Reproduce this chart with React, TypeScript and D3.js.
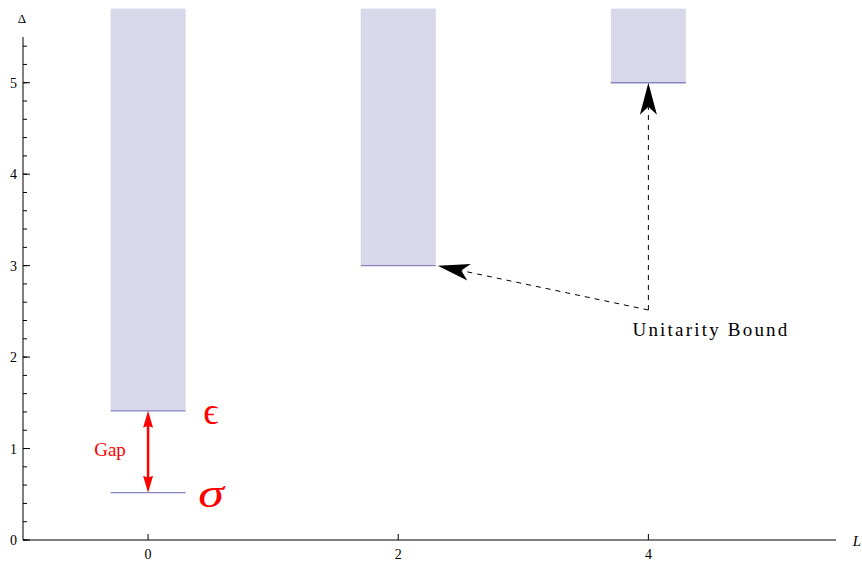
import React from "react";
import * as d3 from "d3";

// Spin L of each channel and the dimension where its continuum starts
const spins = [0, 2, 4];
const continuumStart = [1.4126, 3, 5];
// Isolated scalar operators below the L = 0 continuum
const sigmaDim = 0.518;
const epsilonDim = 1.4126;
// Axis ticks
const xTicks = [0, 2, 4];
const yTicks = [0, 1, 2, 3, 4, 5];
const yMinorTicks = d3.range(0, 5.5, 0.2);

const W = 862;
const H = 561;

const x = d3.scaleLinear().domain([-1, 5.5]).range([23, 836]);
const y = d3.scaleLinear().domain([0, 5.5]).range([540, 37]);
const barHalf = 0.3;
const barTop = 5.81;

const fillC = "#d8d8ea";
const lineC = "#8585c4";
const serif = "'Liberation Serif', 'DejaVu Serif', serif";

// Notched arrowhead with tip at (tx, ty) pointing along angle ang
function head(tx: number, ty: number, ang: number, len: number, half: number, notch: number) {
  const c = Math.cos(ang), s = Math.sin(ang);
  const pt = (along: number, side: number) =>
    [tx - c * along - s * side, ty - s * along + c * side];
  const a = pt(len, half), b = pt(notch, 0), d = pt(len, -half);
  return `M${tx},${ty}L${a[0]},${a[1]}L${b[0]},${b[1]}L${d[0]},${d[1]}Z`;
}

export default function App() {
  const elbowX = x(4);
  const elbowY = 310;
  const tipUp: [number, number] = [x(4), y(continuumStart[2])];
  const tipLeft: [number, number] = [x(2) + barHalf * (x(1) - x(0)) + 2, y(continuumStart[1])];
  const angUp = Math.atan2(tipUp[1] - elbowY, tipUp[0] - elbowX);
  const angLeft = Math.atan2(tipLeft[1] - elbowY, tipLeft[0] - elbowX);

  const gx = x(0);
  const gTop = y(epsilonDim);
  const gBot = y(sigmaDim);

  return (
    <svg width={W} height={H} style={{ position: "absolute", left: 0, top: 0, background: "#fff" }}>
      {/* continua */}
      {spins.map((L, i) => (
        <g key={L}>
          <rect x={x(L - barHalf)} width={x(L + barHalf) - x(L - barHalf)} y={y(barTop)}
            height={y(continuumStart[i]) - y(barTop)} fill={fillC} />
          <line x1={x(L - barHalf)} x2={x(L + barHalf)} y1={y(continuumStart[i])} y2={y(continuumStart[i])}
            stroke={lineC} strokeWidth={1.3} />
        </g>
      ))}
      <line x1={x(-barHalf)} x2={x(barHalf)} y1={y(sigmaDim)} y2={y(sigmaDim)} stroke={lineC} strokeWidth={1.3} />

      {/* axes */}
      <line x1={x(-1)} x2={x(5.5)} y1={y(0)} y2={y(0)} stroke="#000" strokeWidth={1} />
      <line x1={x(-1)} x2={x(-1)} y1={y(0)} y2={y(5.5)} stroke="#000" strokeWidth={1} />
      {xTicks.map((t) => (
        <g key={t}>
          <line x1={x(t)} x2={x(t)} y1={y(0)} y2={y(0) - 6} stroke="#000" />
          <text x={x(t)} y={559} textAnchor="middle" fontFamily={serif} fontSize={14}>{t}</text>
        </g>
      ))}
      {yMinorTicks.map((t) => (
        <line key={t} x1={x(-1)} x2={x(-1) + 4} y1={y(t)} y2={y(t)} stroke="#000" />
      ))}
      {yTicks.map((t) => (
        <g key={t}>
          <line x1={x(-1)} x2={x(-1) + 7} y1={y(t)} y2={y(t)} stroke="#000" />
          <text x={17} y={y(t) + 5} textAnchor="end" fontFamily={serif} fontSize={14}>{t}</text>
        </g>
      ))}
      <text x={22} y={23} textAnchor="middle" fontFamily={serif} fontSize={13}>Δ</text>
      <text x={857} y={546} textAnchor="middle" fontFamily={serif} fontSize={15} fontStyle="italic">L</text>

      {/* gap between sigma and epsilon */}
      <line x1={gx} x2={gx} y1={gTop + 12} y2={gBot - 12} stroke="#f00" strokeWidth={2.5} />
      <path d={head(gx, gTop, -Math.PI / 2, 17, 5, 15)} fill="#f00" />
      <path d={head(gx, gBot, Math.PI / 2, 17, 5, 15)} fill="#f00" />
      <text x={110} y={456} textAnchor="middle" fontFamily={serif} fontSize={19} fill="#f00">Gap</text>
      <text x={211} y={424} textAnchor="middle" fontFamily={serif} fontSize={38} fill="#f00">ϵ</text>
      <text transform="translate(211,507) scale(1.3,1)" textAnchor="middle" fontFamily={serif} fontSize={40}
        fontStyle="italic" fill="#f00">σ</text>

      {/* unitarity bound annotation */}
      <line x1={elbowX} y1={elbowY} x2={tipUp[0] - Math.cos(angUp) * 24} y2={tipUp[1] - Math.sin(angUp) * 24}
        stroke="#000" strokeDasharray="5,5" />
      <line x1={elbowX} y1={elbowY} x2={tipLeft[0] - Math.cos(angLeft) * 24} y2={tipLeft[1] - Math.sin(angLeft) * 24}
        stroke="#000" strokeDasharray="5,5" />
      <path d={head(tipUp[0], tipUp[1], angUp, 32, 8.5, 24)} fill="#000" />
      <path d={head(tipLeft[0], tipLeft[1], angLeft, 32, 8.5, 24)} fill="#000" />
      <text x={711} y={336} textAnchor="middle" fontFamily={serif} fontSize={19} letterSpacing={2.2}>Unitarity Bound</text>
    </svg>
  );
}
